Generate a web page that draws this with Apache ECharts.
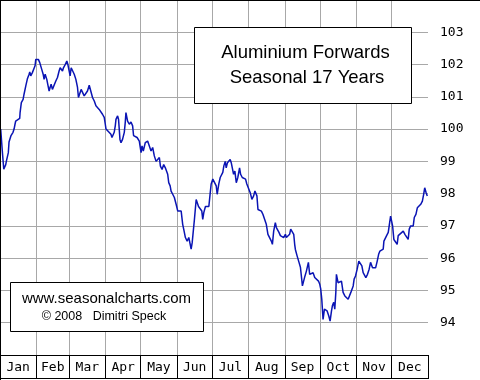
<!DOCTYPE html>
<html>
<head>
<meta charset="utf-8">
<script src="https://cdn.jsdelivr.net/npm/echarts@6/dist/echarts.min.js"></script>
<style>html,body{margin:0;padding:0;background:#fff}#c{width:480px;height:380px}</style>
</head>
<body>
<div id="c"></div>
<script>
// ---- data (day of year, seasonal index) ----
const months = ['Jan','Feb','Mar','Apr','May','Jun','Jul','Aug','Sep','Oct','Nov','Dec'];
const monthStarts = [0,31,59,90,120,151,181,212,243,273,304,334,365];
const yTicks = [94,95,96,97,98,99,100,101,102,103];
const titleLines = ['Aluminium Forwards','Seasonal 17 Years'];
const creditLines = ['www.seasonalcharts.com','\u00A9 2008   Dimitri Speck'];

const days = [0.6,2.0,3.2,4.9,5.4,7.1,7.7,9.4,11.1,12.0,12.8,13.4,14.8,16.8,17.1,18.2,19.7,20.5,22.0,23.3,24.8,25.4,26.2,27.6,29.1,29.9,30.5,31.4,32.7,33.9,35.6,36.8,37.6,38.5,39.9,41.0,41.9,42.7,43.6,44.7,46.2,47.6,49.0,50.4,51.3,52.1,53.3,54.1,55.6,57.0,57.9,59.0,59.8,60.7,61.8,63.3,64.7,66.1,66.9,68.1,69.2,70.4,71.8,73.3,74.6,76.1,77.5,78.9,80.4,81.8,83.2,84.6,86.1,87.4,88.9,89.8,90.4,91.7,94.6,95.5,97.4,98.3,98.9,100.3,101.1,102.3,103.2,104.5,106.0,106.8,107.4,108.8,110.3,111.7,112.6,113.1,113.9,115.1,116.9,118.8,120.3,121.1,122.2,123.9,125.9,127.4,128.8,130.2,131.6,133.1,134.5,135.9,136.8,138.2,139.6,141.0,143.0,143.9,145.1,145.9,147.3,148.7,150.2,151.6,152.4,154.5,155.8,156.7,158.1,159.6,161.0,162.2,163.0,163.9,165.0,165.8,167.3,168.1,169.3,170.7,172.1,172.9,173.8,175.2,176.7,178.1,179.3,180.1,181.5,182.9,184.4,185.2,186.6,187.8,189.2,190.0,190.9,192.1,192.9,194.0,195.2,196.3,197.2,198.1,199.2,200.3,201.5,202.8,204.3,205.2,206.6,208.0,209.4,210.5,212.0,213.4,214.8,216.3,217.4,218.2,219.1,220.0,221.4,222.9,224.2,225.7,227.1,228.5,229.9,231.4,232.3,233.4,234.8,235.7,237.0,237.9,239.1,240.5,241.9,243.4,244.2,245.6,247.0,247.9,249.3,250.5,251.3,251.9,253.3,255.0,256.2,257.3,257.9,259.0,260.1,261.3,263.0,264.1,265.6,267.0,268.4,269.9,271.6,272.7,273.5,274.4,275.5,276.7,277.8,278.9,280.4,281.5,282.7,283.5,284.6,285.5,286.4,286.9,288.3,289.8,291.2,292.6,294.1,295.5,296.9,298.3,299.2,300.3,301.2,302.0,303.2,304.6,306.0,307.5,308.6,309.7,310.9,312.0,313.4,314.8,316.0,316.9,317.7,318.8,320.3,321.7,322.9,324.0,325.4,326.8,327.4,328.8,329.7,331.1,331.9,333.1,333.9,334.8,335.9,337.4,338.7,339.6,341.1,343.9,345.3,346.8,348.1,349.0,350.2,351.6,352.4,353.3,354.7,355.9,357.3,358.8,360.2,361.3,362.2,363.4,364.4];
const values = [100.0,99.3,98.76,98.9,99.0,99.27,99.6,99.8,99.9,100.0,100.15,100.25,100.3,100.33,100.5,100.82,100.92,101.08,101.34,101.55,101.7,101.77,101.65,101.75,101.7,101.96,102.16,102.22,102.16,102.06,101.85,101.7,101.54,101.7,101.54,101.34,101.18,101.29,101.39,101.23,101.29,101.49,101.6,101.8,101.9,101.85,101.8,101.9,102.0,102.11,102.0,101.8,101.65,101.9,101.96,101.7,101.54,101.29,100.98,100.92,101.23,101.29,101.03,101.03,101.18,101.36,101.34,100.98,100.87,100.72,100.67,100.61,100.56,100.46,100.36,100.15,100.0,100.0,99.84,99.74,99.9,100.1,100.3,100.41,100.3,99.68,99.58,99.68,99.9,100.2,100.51,100.25,100.15,100.22,100.2,100.1,99.8,99.84,99.74,99.63,99.27,99.48,99.32,99.58,99.63,99.58,99.32,99.43,99.17,99.0,99.06,99.12,98.85,98.75,98.9,98.8,98.6,98.34,98.24,98.08,97.98,97.88,97.67,97.46,97.51,97.46,97.05,96.89,96.64,96.53,96.64,96.43,96.28,96.48,96.9,97.2,97.82,97.88,97.6,97.56,97.46,97.2,97.41,97.6,97.56,97.6,98.03,98.3,98.45,98.4,98.24,97.98,98.3,98.5,98.45,98.66,98.86,99.0,98.8,98.96,98.9,99.06,98.96,98.8,98.6,98.7,98.34,98.5,98.8,98.6,98.5,98.45,98.45,98.3,98.3,98.03,97.82,97.93,98.08,98.13,97.93,97.51,97.51,97.46,97.36,97.3,97.05,96.74,96.74,96.53,96.43,96.84,97.1,96.95,97.0,96.8,96.7,96.7,96.64,96.74,96.64,96.7,96.74,96.9,96.95,96.74,96.43,96.27,96.08,95.87,95.72,95.35,95.14,95.19,95.45,95.6,95.87,95.5,95.45,95.55,95.4,95.45,95.29,95.19,95.05,94.73,94.1,94.42,94.48,94.37,94.21,94.05,94.37,94.53,94.63,94.42,94.94,95.5,95.24,95.19,95.29,94.94,94.83,94.78,94.73,94.78,94.94,94.89,95.14,95.35,95.45,95.66,95.91,95.87,95.76,95.55,95.6,95.4,95.5,95.66,95.87,95.91,95.7,95.66,95.7,95.91,96.12,96.22,96.17,96.28,96.53,96.58,96.7,96.8,97.0,97.3,97.36,97.0,96.58,96.53,96.43,96.7,96.74,96.84,96.74,96.7,96.58,96.9,97.0,97.05,97.0,97.26,97.36,97.56,97.6,97.67,97.77,97.98,98.18,98.03,97.93];

const monthMids = months.map((m, i) => (monthStarts[i] + monthStarts[i + 1]) / 2);
const seriesData = days.map((d, i) => [d, values[i]]);

const chart = echarts.init(document.getElementById('c'), null, {renderer: 'canvas'});
const monoFont = '"DejaVu Sans Mono", monospace';
chart.setOption({
  animation: false,
  backgroundColor: '#ffffff',
  grid: {left: 0, right: 52, top: 0, bottom: 25, containLabel: false},
  xAxis: {
    type: 'value', min: 0, max: 365,
    axisLine: {show: true, lineStyle: {color: '#000', width: 1}},
    axisTick: {show: true, inside: false, length: 23, customValues: monthStarts, lineStyle: {color: '#000', width: 1}},
    axisLabel: {
      show: true, customValues: monthMids, margin: 6,
      color: '#000', fontFamily: monoFont, fontSize: 13,
      formatter: function (v) {
        const i = monthMids.findIndex(m => Math.abs(m - v) < 0.01);
        return i >= 0 ? months[i] : '';
      }
    },
    splitLine: {show: false}
  },
  yAxis: {
    type: 'value', position: 'right', min: 93, max: 104, interval: 1,
    axisLine: {show: true, lineStyle: {color: '#a8a8a8', width: 1}},
    axisTick: {show: false},
    axisLabel: {
      margin: 12, color: '#000', fontFamily: monoFont, fontSize: 13,
      showMinLabel: false, showMaxLabel: false,
      formatter: function (v) { return yTicks.indexOf(v) >= 0 ? String(v) : ''; }
    },
    splitLine: {show: true, lineStyle: {color: '#a8a8a8', width: 1}}
  },
  series: [{
    type: 'line',
    data: seriesData,
    showSymbol: false,
    symbol: 'none',
    lineStyle: {color: '#0a14b4', width: 1.5},
    z: 5,
    markLine: {
      silent: true, symbol: ['none', 'none'], animation: false,
      label: {show: false},
      lineStyle: {color: '#a8a8a8', width: 1, type: 'solid'},
      data: monthStarts.slice(1, 12).map(d => ({xAxis: d}))
    }
  }],
  graphic: [
    {type: 'line', shape: {x1: 0, y1: 0.5, x2: 480, y2: 0.5}, style: {stroke: '#000', lineWidth: 1}, z: 100},
    {type: 'line', shape: {x1: 0.5, y1: 0, x2: 0.5, y2: 380}, style: {stroke: '#000', lineWidth: 1}, z: 100},
    {type: 'line', shape: {x1: 0, y1: 378.5, x2: 428.5, y2: 378.5}, style: {stroke: '#000', lineWidth: 1}, z: 100},
    {type: 'line', shape: {x1: 428.5, y1: 355, x2: 428.5, y2: 379}, style: {stroke: '#000', lineWidth: 1}, z: 100},
    {type: 'rect', shape: {x: 194.5, y: 27.5, width: 217, height: 76}, style: {fill: '#fff', stroke: '#000', lineWidth: 1}, z: 50},
    {type: 'text', x: 305.5, y: 53, style: {text: titleLines[0], fill: '#000', font: '18.5px "Liberation Sans", Arial, sans-serif', textAlign: 'center', textVerticalAlign: 'middle'}, z: 51},
    {type: 'text', x: 307, y: 78, style: {text: titleLines[1], fill: '#000', font: '18.5px "Liberation Sans", Arial, sans-serif', textAlign: 'center', textVerticalAlign: 'middle'}, z: 51},
    {type: 'rect', shape: {x: 10.5, y: 282.5, width: 193, height: 49}, style: {fill: '#fff', stroke: '#000', lineWidth: 1}, z: 50},
    {type: 'text', x: 106.5, y: 298.5, style: {text: creditLines[0], fill: '#000', font: '15px "Liberation Sans", Arial, sans-serif', textAlign: 'center', textVerticalAlign: 'middle'}, z: 51},
    {type: 'text', x: 104, y: 316.5, style: {text: creditLines[1], fill: '#000', font: '12.5px "Liberation Sans", Arial, sans-serif', textAlign: 'center', textVerticalAlign: 'middle'}, z: 51}
  ]
});
</script>
</body>
</html>
